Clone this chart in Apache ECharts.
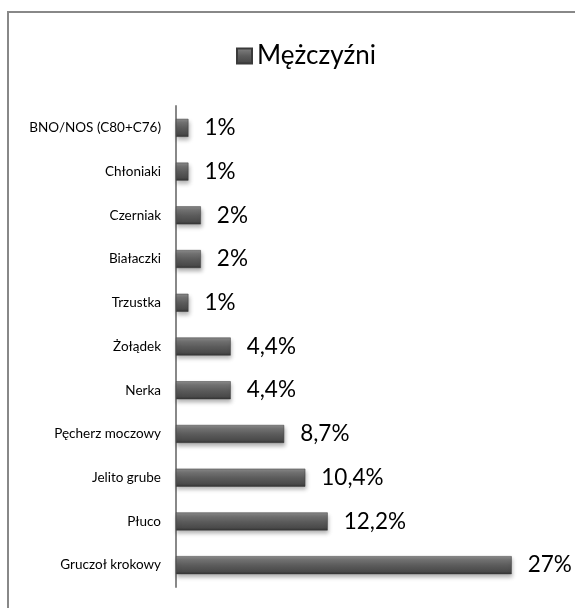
<!DOCTYPE html>
<html>
<head>
<meta charset="utf-8">
<script src="https://cdn.jsdelivr.net/npm/echarts@6/dist/echarts.min.js"></script>
<style>
    html, body { margin: 0; padding: 0; background: #fff; }
    #chart { width: 575px; height: 608px; }
</style>
</head>
<body>
<div id="chart"></div>
<script>
    // dane (od dołu do góry)
    var categories = ['Gruczoł krokowy', 'Płuco', 'Jelito grube', 'Pęcherz moczowy', 'Nerka',
        'Żołądek', 'Trzustka', 'Białaczki', 'Czerniak', 'Chłoniaki', 'BNO/NOS (C80+C76)'];
    var values = [27, 12.2, 10.4, 8.7, 4.4, 4.4, 1, 2, 2, 1, 1];
    var seriesName = 'Mężczyźni';

    var barColor = new echarts.graphic.LinearGradient(0, 0, 0, 1, [
        { offset: 0, color: '#8c8c8c' },
        { offset: 0.2, color: '#747474' },
        { offset: 0.5, color: '#5c5c5c' },
        { offset: 0.85, color: '#4a4a4a' },
        { offset: 1, color: '#333333' }
    ]);

    var chart = echarts.init(document.getElementById('chart'));
    var option = {
        backgroundColor: '#fff',
        textStyle: { fontFamily: 'Lato, "Open Sans", sans-serif' },
        graphic: [{
            type: 'rect',
            shape: { x: 8, y: 12, width: 620, height: 640 },
            style: { fill: 'none', stroke: '#888', lineWidth: 2 },
            silent: true
        }],
        legend: {
            top: 38,
            left: 231,
            icon: 'rect',
            itemWidth: 15,
            itemHeight: 15,
            itemGap: 4,
            textStyle: { fontSize: 26, color: '#000', fontFamily: 'Lato, "Open Sans", sans-serif' },
            data: [seriesName]
        },
        grid: {
            left: 176,
            right: 26,
            top: 106,
            bottom: 21,
            containLabel: false
        },
        xAxis: {
            type: 'value',
            min: 0,
            max: 30,
            show: false
        },
        yAxis: {
            type: 'category',
            data: categories,
            axisLine: { show: true, lineStyle: { color: '#888', width: 2 } },
            axisTick: { show: false },
            axisLabel: { fontSize: 13.5, color: '#000', margin: 15 }
        },
        series: [{
            name: seriesName,
            type: 'bar',
            data: values,
            barWidth: 18,
            itemStyle: {
                color: barColor,
                borderColor: '#3a3a3a',
                borderWidth: 0.5,
                shadowBlur: 4,
                shadowOffsetY: 3,
                shadowOffsetX: 1,
                shadowColor: 'rgba(0,0,0,0.3)'
            },
            label: {
                show: true,
                position: 'right',
                distance: 16,
                fontSize: 22.5,
                color: '#000',
                formatter: function (p) {
                    return String(p.value).replace('.', ',') + '%';
                }
            }
        }]
    };
    chart.setOption(option);
</script>
</body>
</html>
